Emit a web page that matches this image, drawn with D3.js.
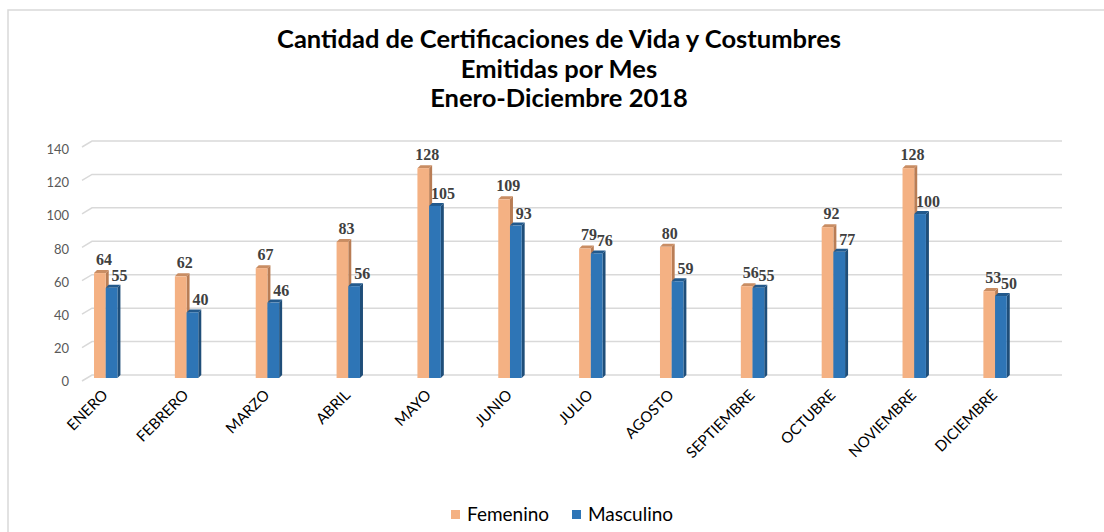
<!DOCTYPE html>
<html>
<head>
<meta charset="utf-8">
<script src="https://cdn.jsdelivr.net/npm/d3@7"></script>
<style>
  html, body { margin: 0; padding: 0; background: #fff; }
  svg { display: block; }
</style>
</head>
<body>
<svg id="chart" width="1104" height="532"></svg>
<script>
const months = ["ENERO","FEBRERO","MARZO","ABRIL","MAYO","JUNIO","JULIO","AGOSTO","SEPTIEMBRE","OCTUBRE","NOVIEMBRE","DICIEMBRE"];
const femenino = [64, 62, 67, 83, 128, 109, 79, 80, 56, 92, 128, 53];
const masculino = [55, 40, 46, 56, 105, 93, 76, 59, 55, 77, 100, 50];
const yTicks = [0, 20, 40, 60, 80, 100, 120, 140];
const seriesNames = ["Femenino", "Masculino"];
const titleLines = ["Cantidad de Certificaciones de Vida y Costumbres", "Emitidas por Mes", "Enero-Diciembre 2018"];

const svg = d3.select("#chart");
const W = 1104, H = 532;
const colors = {
  Femenino: {front: "#F4B183", side: "#B97D55", top: "#C98D63"},
  Masculino: {front: "#2E75B6", side: "#1F4E79", top: "#22598C"}
};

// Chart frame (only left and top visible)
svg.append("rect").attr("x", 8).attr("y", 10).attr("width", W + 20).attr("height", H + 20)
  .attr("fill", "#fff").attr("stroke", "#D9D9D9").attr("stroke-width", 1.5);

// Scales
const x = d3.scaleBand().domain(months).range([65.3, 1035.5]).paddingInner(0).paddingOuter(0);
const yBar = d3.scaleLinear().domain([0, 140]).range([378, 148.5]);
const yBack = d3.scaleLinear().domain([0, 140]).range([375, 141]);
const yLab = d3.scaleLinear().domain([0, 140]).range([381.5, 149.5]);
const barW = 11.7, dep = 3;

// Gridlines (3D back wall with left diagonal)
const grid = svg.append("g");
yTicks.forEach(t => {
  const yb = yBack(t);
  grid.append("path")
    .attr("d", `M82,${yb + 6} L92,${yb} L1062,${yb}`)
    .attr("fill", "none").attr("stroke", "#D9D9D9").attr("stroke-width", 1.5);
});

// Y axis labels
const yAxis = d3.axisLeft(yLab).tickValues(yTicks).tickSize(0).tickPadding(0);
const yg = svg.append("g").attr("transform", "translate(69,0)").call(yAxis);
yg.select(".domain").remove();
yg.selectAll("text").attr("font-family", "Lato, 'Open Sans', sans-serif").attr("font-size", 13)
  .attr("fill", "#595959");

// Bars
function drawBar(g, x0, v, c) {
  const x1 = x0 + barW, yt = yBar(v), yb = yBar(0);
  g.append("path").attr("d", `M${x1},${yt} L${x1 + dep},${yt - dep} L${x1 + dep},${yb - dep} L${x1},${yb} Z`).attr("fill", c.side);
  g.append("path").attr("d", `M${x0},${yt} L${x0 + dep},${yt - dep} L${x1 + dep},${yt - dep} L${x1},${yt} Z`).attr("fill", c.top);
  g.append("rect").attr("x", x0).attr("y", yt).attr("width", barW).attr("height", yb - yt).attr("fill", c.front);
}
const bars = svg.append("g");
months.forEach((m, i) => {
  const cx = x(m) + x.bandwidth() / 2;
  drawBar(bars, cx - barW, femenino[i], colors.Femenino);
  drawBar(bars, cx, masculino[i], colors.Masculino);
});

// Data labels
const labels = svg.append("g").attr("font-family", "'Liberation Serif', serif").attr("font-weight", "bold")
  .attr("font-size", 16).attr("fill", "#404040").attr("text-anchor", "middle");
months.forEach((m, i) => {
  const cx = x(m) + x.bandwidth() / 2;
  labels.append("text").attr("x", cx - barW / 2 + 4).attr("y", yBar(femenino[i]) - 8).text(femenino[i]);
  labels.append("text").attr("x", cx + barW / 2 + 8).attr("y", yBar(masculino[i]) - 7).text(masculino[i]);
});

// X labels
const xl = svg.append("g").attr("font-family", "Lato, 'Open Sans', sans-serif").attr("font-size", 15)
  .attr("fill", "#000").attr("text-anchor", "end");
months.forEach(m => {
  const cx = x(m) + x.bandwidth() / 2 + 3;
  xl.append("text").attr("transform", `translate(${cx},${396}) rotate(-45)`).text(m);
});

// Title
const tg = svg.append("g").attr("font-family", "Lato, 'Open Sans', sans-serif").attr("font-weight", "bold")
  .attr("font-size", 25.5).attr("fill", "#000").attr("text-anchor", "middle");
const titleY = [48, 78, 107];
titleLines.forEach((t, i) => tg.append("text").attr("x", 559).attr("y", titleY[i]).text(t));

// Legend
const lg = svg.append("g").attr("font-family", "Lato, 'Open Sans', sans-serif").attr("font-size", 19).attr("fill", "#000");
const legX = [451, 572];
seriesNames.forEach((s, i) => {
  lg.append("rect").attr("x", legX[i]).attr("y", 510).attr("width", 9).attr("height", 9).attr("fill", colors[s].front);
  lg.append("text").attr("x", legX[i] + 16).attr("y", 521).text(s);
});
</script>
</body>
</html>
